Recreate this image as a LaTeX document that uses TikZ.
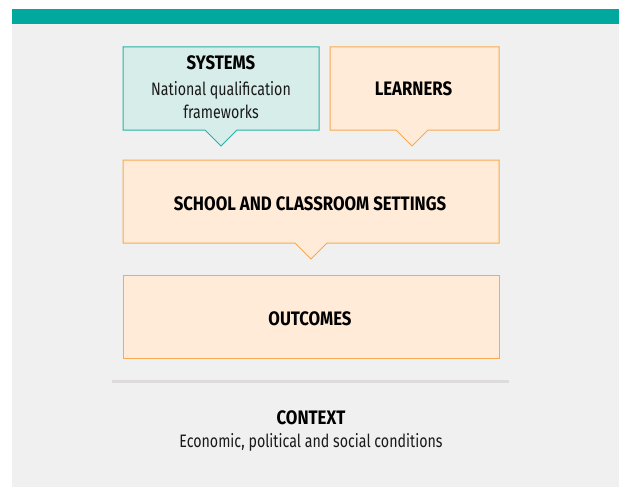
\documentclass[tikz,border=0pt]{standalone}
\usepackage{fontspec}
\setmainfont{Fira Sans}[FakeStretch=0.86]
\newfontfamily\bodyfont{Fira Sans}[FakeStretch=0.79]
\definecolor{teal1}{RGB}{0,168,157}
\definecolor{tealfill}{RGB}{214,237,234}
\definecolor{tealline}{RGB}{40,178,166}
\definecolor{orfill}{RGB}{255,235,216}
\definecolor{orline}{RGB}{247,170,80}
\definecolor{panel}{RGB}{240,240,240}
\definecolor{sepline}{RGB}{221,219,219}
\begin{document}
\begin{tikzpicture}[x=1pt,y=-1pt,
  head/.style={font=\fontsize{19.5}{22}\selectfont\bfseries, text=black, inner sep=0pt},
  body/.style={font=\bodyfont\fontsize{18}{23.5}\selectfont, text=black!90, inner sep=0pt, align=center},
  tealbox/.style={fill=tealfill, draw=tealline, line width=1pt, line join=miter},
  orbox/.style={fill=orfill, draw=orline, line width=1pt, line join=miter}]
\useasboundingbox (0,0) rectangle (621,487);
\fill[white] (0,0) rectangle (621,487);
\fill[panel] (12,24) rectangle (619,487);
\fill[teal1] (12,9) rectangle (619,24.5);
% systems box
\draw[tealbox] (123,47) -- (319,47) -- (319,130) -- (237,130) -- (221,146) -- (205,130) -- (123,130) -- cycle;
% learners box
\draw[orbox] (330,47) -- (499,47) -- (499,130) -- (428,130) -- (412,146) -- (396,130) -- (330,130) -- cycle;
% school box
\draw[orbox] (123,160) -- (499,160) -- (499,243) -- (327,243) -- (311,259) -- (295,243) -- (123,243) -- cycle;
% outcomes box
\draw[orbox] (123,275) rectangle (499,358);
% separator
\draw[sepline, line width=2.5pt] (112,381.5) -- (509,381.5);
% texts
\node[head] (systems) at (221,63) {SYSTEMS};
\node[body] (nqf) at (221,100) {National qualification\\frameworks};
\node[head] (learners) at (413.5,89) {LEARNERS};
\node[head] (school) at (310,203.5) {SCHOOL AND CLASSROOM SETTINGS};
\node[head] (outcomes) at (310,318.5) {OUTCOMES};
\node[head] (context) at (311,418) {CONTEXT};
\node[body] (cond) at (311,442) {Economic, political and social conditions};
\end{tikzpicture}
\end{document}
